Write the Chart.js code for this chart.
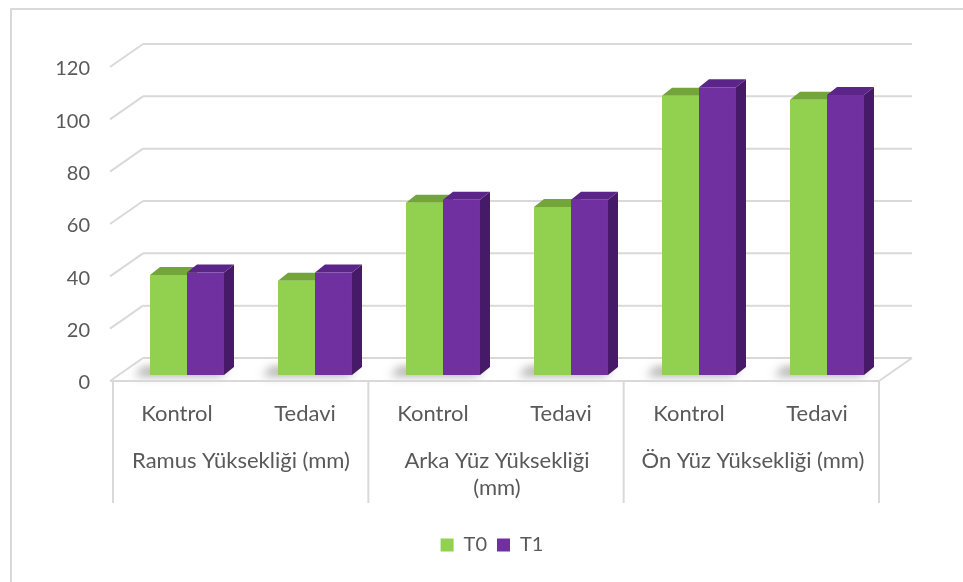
<!DOCTYPE html>
<html>
<head>
<meta charset="utf-8">
<script src="https://cdn.jsdelivr.net/npm/chart.js@4.4.1/dist/chart.umd.min.js"></script>
<style>
  html, body { margin: 0; padding: 0; background: #fff; }
  #wrap { width: 963px; height: 582px; }
</style>
</head>
<body>
<div id="wrap"><canvas id="grafico"></canvas></div>
<script>
var kategoriler = ['Kontrol', 'Tedavi', 'Kontrol', 'Tedavi', 'Kontrol', 'Tedavi'];
var gruplar = ['Ramus Yüksekliği (mm)', ['Arka Yüz Yüksekliği', '(mm)'], 'Ön Yüz Yüksekliği (mm)'];
var seriT0 = [38.2, 36.0, 65.8, 64.2, 106.7, 105.2];
var seriT1 = [39.2, 39.2, 67.0, 67.0, 110.0, 107.0];
var yMax = 120;
var yAdim = 20;

var yazi = '#595959';
var cizgi = '#d9d9d9';

// offsets of the front and back planes relative to the bars plane
var onX = -10, onY = 6, arkaX = 20, arkaY = -17;
// bar depth
var dX = 10, dY = -8;

var renkler = {
  T0: { on: '#92d050', ust: '#73a53a', yan: '#5a8a2a' },
  T1: { on: '#7030a0', ust: '#5b2488', yan: '#461a68' }
};

function cizgiCek(ctx, x1, y1, x2, y2) {
  ctx.beginPath();
  ctx.moveTo(x1, y1);
  ctx.lineTo(x2, y2);
  ctx.stroke();
}

function poligon(ctx, noktalar, renk) {
  ctx.beginPath();
  ctx.moveTo(noktalar[0][0], noktalar[0][1]);
  for (var i = 1; i < noktalar.length; i++) ctx.lineTo(noktalar[i][0], noktalar[i][1]);
  ctx.closePath();
  ctx.fillStyle = renk;
  ctx.fill();
}

var ucBoyut = {
  id: 'ucBoyut',
  beforeDraw: function(chart) {
    var ctx = chart.ctx;
    ctx.save();
    ctx.strokeStyle = cizgi;
    ctx.lineWidth = 2;
    ctx.strokeRect(11, 9, 1000, 1000);
    ctx.restore();
  },
  beforeDatasetsDraw: function(chart) {
    var ctx = chart.ctx;
    var x = chart.scales.x, y = chart.scales.y;
    var y0 = y.getPixelForValue(0);
    ctx.save();
    ctx.strokeStyle = cizgi;
    ctx.lineWidth = 2;
    // back wall gridlines and left wall diagonals
    y.ticks.forEach(function(t) {
      var yp = y.getPixelForValue(t.value);
      cizgiCek(ctx, x.left + arkaX, yp + arkaY, x.right + arkaX + 1, yp + arkaY);
      cizgiCek(ctx, x.left + onX - 3, yp + onY, x.left + arkaX, yp + arkaY);
    });
    // floor right edge
    cizgiCek(ctx, x.right + onX - 2, y0 + onY, x.right + arkaX + 1, y0 + arkaY);
    ctx.restore();

    // floor shadows
    var m0 = chart.getDatasetMeta(0), m1 = chart.getDatasetMeta(1);
    ctx.save();
    ctx.filter = 'blur(5px)';
    for (var i = 0; i < m0.data.length; i++) {
      var a = m0.data[i], b = m1.data[i];
      var sol = a.x - a.width / 2, sag = b.x + b.width / 2;
      poligon(ctx, [[sol - 16, a.base + 1], [sag - 4, a.base + 1], [sag + dX - 4, a.base + dY], [sol - 6, a.base + dY]], 'rgba(60,60,60,0.45)');
    }
    ctx.restore();

    // top and side faces (fronts are drawn by Chart.js afterwards)
    ctx.save();
    [[m0, renkler.T0], [m1, renkler.T1]].forEach(function(p) {
      p[0].data.forEach(function(el) {
        var l = el.x - el.width / 2, r = el.x + el.width / 2;
        poligon(ctx, [[r, el.y], [r + dX, el.y + dY], [r + dX, el.base + dY], [r, el.base]], p[1].yan);
        poligon(ctx, [[l, el.y], [r, el.y], [r + dX, el.y + dY], [l + dX, el.y + dY]], p[1].ust);
      });
    });
    ctx.restore();
  },
  afterDraw: function(chart) {
    var ctx = chart.ctx;
    var x = chart.scales.x, y = chart.scales.y, x2 = chart.scales.x2;
    var y0 = y.getPixelForValue(0) + onY;
    var sol = x.left + onX, sag = x.right + onX - 2;
    ctx.save();
    ctx.strokeStyle = cizgi;
    ctx.lineWidth = 2;
    cizgiCek(ctx, sol - 3, y0, sag, y0);
    for (var k = 0; k <= gruplar.length; k++) {
      var xp = sol + k * (sag - sol) / gruplar.length;
      cizgiCek(ctx, xp, y0, xp, x2.bottom - 22);
    }
    ctx.restore();
  }
};

var yaziX = { family: 'Lato', size: 22 };
var yaziY = { family: 'Lato', size: 20 };

new Chart(document.getElementById('grafico'), {
  type: 'bar',
  data: {
    labels: kategoriler,
    datasets: [
      { label: 'T0', data: seriT0, backgroundColor: renkler.T0.on, borderColor: '#6f9f38', borderWidth: 0 },
      { label: 'T1', data: seriT1, backgroundColor: renkler.T1.on, borderColor: '#461a68', borderWidth: 0 }
    ]
  },
  options: {
    responsive: true,
    maintainAspectRatio: false,
    animation: false,
    layout: { padding: { top: 61, left: 21, right: 0, bottom: 17 } },
    datasets: { bar: { categoryPercentage: 0.578, barPercentage: 1.0 } },
    scales: {
      y: {
        min: 0,
        max: yMax,
        ticks: { stepSize: yAdim, color: yazi, font: yaziY, padding: 33, labelOffset: 8 },
        grid: { display: false, drawTicks: false },
        border: { display: false },
        afterFit: function(s) { s.width = 102; }
      },
      yBos: {
        position: 'right',
        min: 0,
        max: yMax,
        ticks: { display: false },
        grid: { display: false, drawTicks: false },
        border: { display: false },
        afterFit: function(s) { s.width = 72; }
      },
      x: {
        ticks: { color: yazi, font: yaziX, padding: 26, labelOffset: onX, maxRotation: 0, autoSkip: false },
        grid: { display: false, drawTicks: false },
        border: { display: false },
        afterFit: function(s) { s.height = 51; }
      },
      x2: {
        type: 'category',
        position: 'bottom',
        labels: gruplar,
        offset: true,
        weight: 1,
        ticks: { color: yazi, font: yaziX, padding: 22, labelOffset: onX, maxRotation: 0, autoSkip: false },
        grid: { display: false, drawTicks: false },
        border: { display: false },
        afterFit: function(s) { s.height = 99; }
      }
    },
    plugins: {
      tooltip: { enabled: false },
      legend: {
        position: 'bottom',
        labels: { color: yazi, font: yaziY, boxWidth: 13, boxHeight: 13, padding: 10 }
      }
    }
  },
  plugins: [ucBoyut]
});
</script>
</body>
</html>
